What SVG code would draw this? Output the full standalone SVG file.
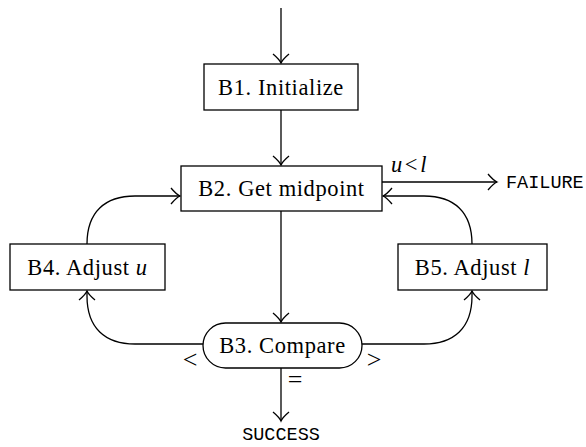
<svg xmlns="http://www.w3.org/2000/svg" width="586" height="447" viewBox="0 0 586 447">
<style>
.box{fill:#fff;stroke:#000;stroke-width:1.3}
.t{font-family:"Liberation Serif","Times New Roman",serif;font-size:22.5px;letter-spacing:0.6px;fill:#000}
.s{font-family:"Liberation Serif","Times New Roman",serif;font-size:26px;fill:#000}
.m{font-family:"Liberation Mono","Courier New",monospace;font-size:18.5px;fill:#000}
.c{fill:none;stroke:#000;stroke-width:1.3}
</style>
<defs>
<marker id="a" viewBox="-11 -9 13 18" markerWidth="13" markerHeight="18" refX="0" refY="0" orient="auto" markerUnits="userSpaceOnUse">
<path d="M-9,-8 Q-3.5,-1.5 0,0 Q-3.5,1.5 -9,8" fill="none" stroke="#000" stroke-width="1.3"/>
</marker>
</defs>
<g id="connectors">
<path class="c" d="M281,8 L281,63" marker-end="url(#a)"/>
<path class="c" d="M281,110 L281,165" marker-end="url(#a)"/>
<path class="c" d="M281,211 L281,322" marker-end="url(#a)"/>
<path class="c" d="M382,182 L497,182" marker-end="url(#a)"/>
<path class="c" d="M87,244 C87,212 105,196 135,196 L180,196" marker-end="url(#a)"/>
<path class="c" d="M472,244 C472,212 454,196 424,196 L383,196" marker-end="url(#a)"/>
<path class="c" d="M203,344 L135,344 C105,344 87,328 87,296 L87,291" marker-end="url(#a)"/>
<path class="c" d="M362,344 L424,344 C454,344 472,328 472,296 L472,291" marker-end="url(#a)"/>
<path class="c" d="M281,368 L281,421" marker-end="url(#a)"/>
</g>
<g id="B1"><rect class="box" x="204" y="64" width="154" height="46"/><text class="t" x="281" y="95" text-anchor="middle">B1. Initialize</text></g>
<g id="B2"><rect class="box" x="181" y="166" width="201" height="45"/><text class="t" x="281.5" y="196" text-anchor="middle">B2. Get midpoint</text></g>
<g id="B4"><rect class="box" x="10" y="244" width="155" height="46"/><text class="t" x="87.5" y="275" text-anchor="middle">B4. Adjust <tspan font-style="italic">u</tspan></text></g>
<g id="B5"><rect class="box" x="398" y="244" width="149" height="46"/><text class="t" x="472.5" y="275" text-anchor="middle">B5. Adjust <tspan font-style="italic">l</tspan></text></g>
<g id="B3"><rect class="box" x="203" y="323" width="159" height="45" rx="22.5" ry="22.5"/><text class="t" x="282.5" y="353" text-anchor="middle">B3. Compare</text></g>
<g id="labels">
<text class="t" x="391" y="172"><tspan font-style="italic">u</tspan><tspan dx="2">&lt;</tspan><tspan dx="2" font-style="italic">l</tspan></text>
<text class="m" x="506" y="188">FAILURE</text>
<text class="m" x="281" y="440" text-anchor="middle">SUCCESS</text>
<text class="s" x="190" y="368" text-anchor="middle">&lt;</text>
<text class="s" x="374" y="368" text-anchor="middle">&gt;</text>
<text class="s" x="295" y="388" text-anchor="middle">=</text>
</g>
</svg>
